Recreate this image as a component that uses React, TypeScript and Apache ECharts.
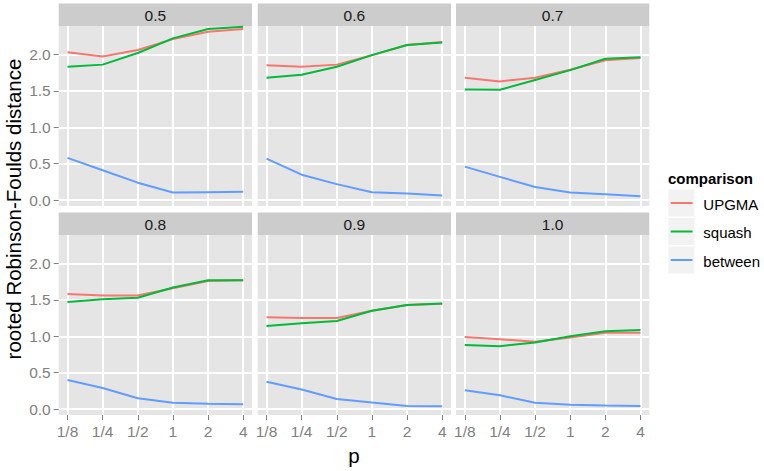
import React, { useEffect, useRef } from "react";
import * as echarts from "echarts";

const P_VALUES = [0.125, 0.25, 0.5, 1, 2, 4];
const X_TICK_VALUES = [-3, -2, -1, 0, 1, 2];
const X_TICK_LABELS = ["1/8", "1/4", "1/2", "1", "2", "4"];
const Y_TICKS = [0, 0.5, 1, 1.5, 2];
const PANELS = ["0.5", "0.6", "0.7", "0.8", "0.9", "1.0"];
const SERIES_NAMES = ["UPGMA", "squash", "between"];
const COLORS = ["#F8766D", "#00BA38", "#619CFF"];

const UPGMA = [
  [2.03, 1.97, 2.06, 2.21, 2.31, 2.35],
  [1.85, 1.83, 1.86, 1.99, 2.13, 2.17],
  [1.68, 1.63, 1.68, 1.79, 1.92, 1.95],
  [1.58, 1.56, 1.56, 1.66, 1.76, 1.77],
  [1.26, 1.25, 1.25, 1.35, 1.43, 1.445],
  [0.99, 0.96, 0.925, 0.985, 1.05, 1.05],
];
const SQUASH = [
  [1.83, 1.86, 2.02, 2.22, 2.35, 2.38],
  [1.68, 1.72, 1.83, 1.99, 2.13, 2.165],
  [1.52, 1.515, 1.65, 1.785, 1.94, 1.96],
  [1.47, 1.51, 1.53, 1.67, 1.77, 1.77],
  [1.14, 1.18, 1.21, 1.35, 1.43, 1.45],
  [0.88, 0.865, 0.915, 1.0, 1.07, 1.085],
];
const BETWEEN = [
  [0.58, 0.41, 0.24, 0.105, 0.11, 0.114],
  [0.57, 0.35, 0.22, 0.11, 0.09, 0.065],
  [0.46, 0.32, 0.18, 0.105, 0.08, 0.055],
  [0.4, 0.29, 0.15, 0.087, 0.073, 0.069],
  [0.375, 0.27, 0.14, 0.09, 0.045, 0.04],
  [0.26, 0.19, 0.087, 0.06, 0.05, 0.045],
];
const SERIES_DATA = [UPGMA, SQUASH, BETWEEN];

const X_MIN = -3.25;
const X_MAX = 2.25;
const Y_MIN = -0.08;
const Y_MAX = 2.39;

const FONT = "'Liberation Sans', Arial, Helvetica, sans-serif";
const COL_LEFT = [58.7, 257.7, 456];
const COL_W = 193.3;
const ROW_TOP = [26, 235];
const ROW_H = 180;
const STRIP_H = 22.5;
const TICK_GREY = "#7F7F7F";
const TEXT_SIZE = 15.5;
const TITLE_SIZE = 20.5;

export default function App() {
  const ref = useRef<HTMLDivElement>(null);
  useEffect(() => {
    if (!ref.current) return;
    const chart = echarts.init(ref.current, null, { renderer: "svg" });
    const grids: any[] = [];
    const xAxes: any[] = [];
    const yAxes: any[] = [];
    const series: any[] = [];
    const graphic: any[] = [];

    PANELS.forEach((name, i) => {
      const row = Math.floor(i / 3);
      const col = i % 3;
      grids.push({
        left: COL_LEFT[col],
        top: ROW_TOP[row],
        width: COL_W,
        height: ROW_H,
        show: true,
        backgroundColor: "#E5E5E5",
        borderWidth: 0,
        z: 0,
      });
      xAxes.push({
        type: "value",
        gridIndex: i,
        min: X_MIN,
        max: X_MAX,
        z: 1,
        axisLine: { show: false, onZero: false },
        axisTick: {
          show: row === 1,
          customValues: X_TICK_VALUES,
          length: 5,
          lineStyle: { color: TICK_GREY, width: 1 },
        },
        axisLabel: {
          show: row === 1,
          customValues: X_TICK_VALUES,
          formatter: (v: number) => X_TICK_LABELS[X_TICK_VALUES.indexOf(Math.round(v))] ?? "",
          color: TICK_GREY,
          fontSize: TEXT_SIZE,
          fontFamily: FONT,
          margin: 8,
        },
        splitLine: { show: true, lineStyle: { color: "#FFFFFF", width: 2 } },
      });
      yAxes.push({
        type: "value",
        gridIndex: i,
        min: Y_MIN,
        max: Y_MAX,
        z: 1,
        axisLine: { show: false, onZero: false },
        axisTick: {
          show: col === 0,
          customValues: Y_TICKS,
          length: 5,
          lineStyle: { color: TICK_GREY, width: 1 },
        },
        axisLabel: {
          show: col === 0,
          customValues: Y_TICKS,
          formatter: (v: number) => v.toFixed(1),
          color: TICK_GREY,
          fontSize: TEXT_SIZE,
          fontFamily: FONT,
          margin: 8,
        },
        splitLine: { show: true, lineStyle: { color: "#FFFFFF", width: 2 } },
      });

      SERIES_NAMES.forEach((sname, s) => {
        series.push({
          name: sname,
          type: "line",
          xAxisIndex: i,
          yAxisIndex: i,
          data: P_VALUES.map((p, k) => [Math.log2(p), SERIES_DATA[s][i][k]]),
          symbol: "none",
          showSymbol: false,
          silent: true,
          z: 2 + s,
          lineStyle: { color: COLORS[s], width: 2 },
          itemStyle: { color: COLORS[s] },
        });
      });
      graphic.push({
        type: "rect",
        shape: { x: COL_LEFT[col], y: ROW_TOP[row] - STRIP_H, width: COL_W, height: STRIP_H },
        style: { fill: "#CCCCCC" },
        silent: true,
      });
      graphic.push({
        type: "text",
        x: COL_LEFT[col] + COL_W / 2,
        y: ROW_TOP[row] - STRIP_H / 2 + 0.5,
        style: {
          text: name,
          fontSize: TEXT_SIZE,
          fontFamily: FONT,
          fill: "#1A1A1A",
          align: "center",
          verticalAlign: "middle",
        },
        silent: true,
      });
    });

    // axis titles
    graphic.push({
      type: "text",
      x: 354,
      y: 455,
      style: {
        text: "p",
        fontSize: TITLE_SIZE,
        fontFamily: FONT,
        fill: "#000000",
        align: "center",
        verticalAlign: "middle",
      },
      silent: true,
    });
    graphic.push({
      type: "text",
      x: 13,
      y: 209,
      rotation: Math.PI / 2,
      style: {
        text: "rooted Robinson-Foulds distance",
        fontSize: TITLE_SIZE,
        fontFamily: FONT,
        fill: "#000000",
        align: "center",
        verticalAlign: "middle",
      },
      silent: true,
    });

    // legend
    graphic.push({
      type: "text",
      x: 668,
      y: 178.5,
      style: {
        text: "comparison",
        fontSize: 15,
        fontWeight: "bold",
        fontFamily: FONT,
        fill: "#000000",
        align: "left",
        verticalAlign: "middle",
      },
      silent: true,
    });
    const keyCenters = [203, 231.5, 260];
    SERIES_NAMES.forEach((sname, s) => {
      const cy = keyCenters[s];
      graphic.push({
        type: "rect",
        shape: { x: 668.3, y: cy - 13.5, width: 26, height: 27 },
        style: { fill: "#F2F2F2" },
        silent: true,
      });
      graphic.push({
        type: "line",
        shape: { x1: 670.7, y1: cy, x2: 692.5, y2: cy },
        style: { stroke: COLORS[s], lineWidth: 2 },
        silent: true,
      });
      graphic.push({
        type: "text",
        x: 703.3,
        y: cy + 1,
        style: {
          text: sname,
          fontSize: 15,
          fontFamily: FONT,
          fill: "#000000",
          align: "left",
          verticalAlign: "middle",
        },
        silent: true,
      });
    });

    chart.setOption({
      animation: false,
      backgroundColor: "#FFFFFF",
      grid: grids,
      xAxis: xAxes,
      yAxis: yAxes,
      series,
      graphic,
    });
    return () => chart.dispose();
  }, []);
  return (
    <div
      ref={ref}
      style={{ position: "fixed", left: 0, top: 0, width: 764, height: 471 }}
    />
  );
}
